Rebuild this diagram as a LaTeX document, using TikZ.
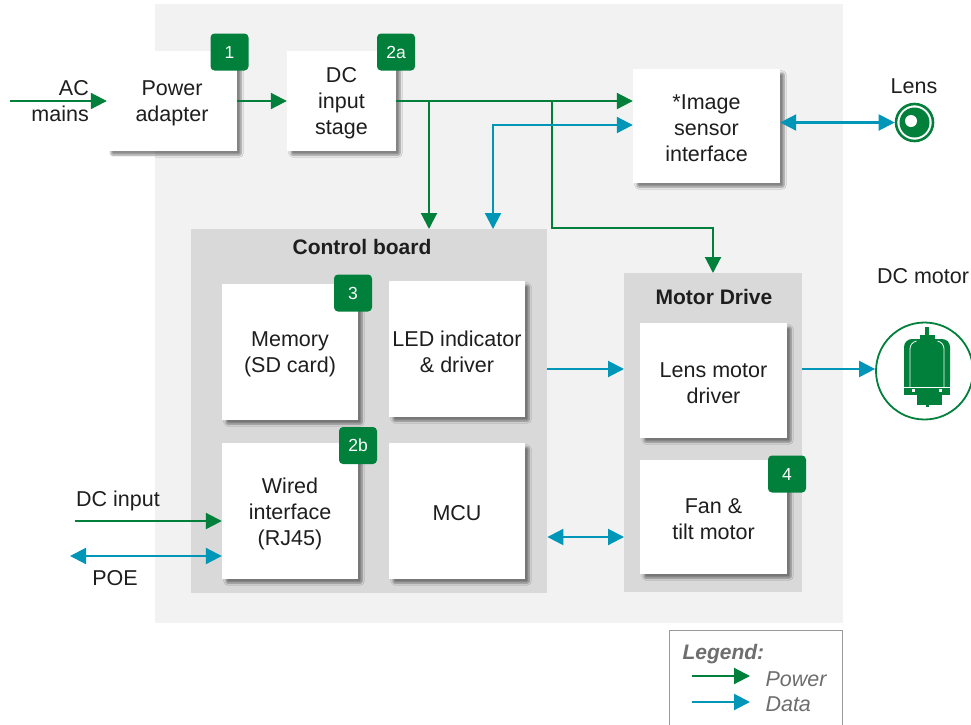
\documentclass[tikz,border=0pt]{standalone}
\usepackage{fontspec}
\setmainfont{Liberation Sans}
\usetikzlibrary{arrows.meta,shadows.blur,calc}
\definecolor{pgreen}{RGB}{0,128,58}
\definecolor{dblue}{RGB}{0,150,184}
\definecolor{bgA}{RGB}{242,242,242}
\definecolor{bgB}{RGB}{217,217,217}
\definecolor{txt}{RGB}{30,30,30}
\definecolor{leg}{RGB}{110,110,110}
\begin{document}
\begin{tikzpicture}[x=1pt,y=-1pt,
  every node/.style={text=txt,font=\fontsize{21.5}{26}\selectfont},
  box/.style={rectangle,fill=white,inner sep=0pt,
    blur shadow={shadow blur steps=6,shadow xshift=4pt,shadow yshift=-4pt,shadow blur extra rounding=1.5pt,shadow opacity=45},
    label={[align=center,yshift=-2.5pt,text=txt,font=\fontsize{21.5}{26}\selectfont]center:#1}},
  grp/.style={rectangle,fill=bgB,anchor=north west,inner sep=0pt},
  badge/.style={rectangle,rounded corners=4pt,fill=pgreen,text=white,
    minimum width=38pt,minimum height=37pt,inner sep=0pt,font=\fontsize{17.5}{20}\selectfont},
  tp/.tip={Triangle[length=16pt,width=16pt]},
  pw/.style={draw=pgreen,line width=2.1pt,-tp},
  dt/.style={draw=dblue,line width=2.1pt},
  dtip/.style={dt,-tp},
  dboth/.style={dt,tp-tp},
  gtitle/.style={font=\bfseries\fontsize{21}{24}\selectfont},
  legtext/.style={anchor=west,text=leg,font=\itshape\fontsize{21.5}{24}\selectfont}
]
\useasboundingbox (0,0) rectangle (971,724);
% main background
\fill[bgA] (155,4) rectangle (843,623);

% groups
\node[grp,minimum width=356pt,minimum height=364pt] (cb) at (191,229) {};
\node[gtitle] (cbt) at (362,247) {Control board};
\node[grp,minimum width=178pt,minimum height=319pt] (md) at (624,273) {};
\node[gtitle] (mdt) at (714,297) {Motor Drive};

% boxes
\node[box={Power\\adapter},minimum width=130pt,minimum height=100pt] (pa) at (172,101) {};
\node[box={DC\\input\\stage},minimum width=109pt,minimum height=100pt] (dc) at (341.5,101) {};
\node[box={*Image\\sensor\\interface},minimum width=147pt,minimum height=114pt] (img) at (706.5,126) {};
\node[box={Memory\\(SD card)},minimum width=136pt,minimum height=136pt] (mem) at (290,352) {};
\node[box={LED indicator\\\& driver},minimum width=136pt,minimum height=136pt] (led) at (457,349) {};
\node[box={Wired\\interface\\(RJ45)},minimum width=136pt,minimum height=136pt] (wi) at (290,511) {};
\node[box={MCU},minimum width=136pt,minimum height=136pt] (mcu) at (457,511) {};
\node[box={Lens motor\\driver},minimum width=147pt,minimum height=115pt] (lmd) at (713.5,380.5) {};
\node[box={Fan \&\\tilt motor},minimum width=147pt,minimum height=114pt] (fan) at (713.5,517) {};

% badges
\node[badge] (b1) at (229.5,52) {1};
\node[badge] (b2a) at (396,52) {2a};
\node[badge] (b3) at (353,293) {3};
\node[badge] (b2b) at (358,445.5) {2b};
\node[badge] (b4) at (787,474) {4};

% outside labels
\node[anchor=east,inner sep=0pt] (acl) at (89,88) {AC};
\node[anchor=east,inner sep=0pt] (mainsl) at (89,114) {mains};
\node (dcinl) at (118,501) {DC input};
\node (poel) at (115,578) {POE};
\node (lensl) at (914,86) {Lens};
\node (dcml) at (923,276) {DC motor};

% lens icon
\node[circle,draw=pgreen,line width=2.6pt,minimum size=37pt,inner sep=0pt] (lens) at (914.5,122.5) {};
\fill[pgreen] (lens.center) circle (15);
\fill[white] ($(lens.center)+(-3.5,-1.5)$) circle (6);

% DC motor icon
\node[circle,draw=pgreen,line width=1.8pt,minimum size=97pt,inner sep=0pt] (dcm) at (924.5,371) {};
\begin{scope}[shift={(dcm.center)}]
  \fill[pgreen] (0.5,-44) rectangle (4.5,-35);
  \fill[pgreen] (-4.5,-36) rectangle (10.5,-31);
  \fill[pgreen,rounded corners=8pt] (-20.5,-32) rectangle (25.5,18);
  \fill[pgreen] (-20.5,8) rectangle (25.5,24);
  \fill[pgreen] (-7.5,23) rectangle (17.5,34);
  \fill[pgreen] (1,33) rectangle (4,36);
  \draw[white,line width=0.8pt] (-14.5,16) -- (-14.5,-22) .. controls (-14.5,-26) and (-12,-29) .. (-8,-30);
  \draw[white,line width=0.8pt] (19.5,16) -- (19.5,-22) .. controls (19.5,-26) and (17,-29) .. (13,-30);
  \draw[white,line width=1pt] (-20.5,16.5) -- (25.5,16.5);
  \fill[white] (-12.5,18) rectangle (-9.5,21);
  \fill[white] (14,18) rectangle (17.5,21);
\end{scope}

% junction coordinates
\coordinate (ac0) at (10,101);
\coordinate (j1) at (429,101);
\coordinate (j2) at (552,101);
\coordinate (j2b) at (552,228);
\coordinate (j2c) at (713,228);
\coordinate (j3) at (493,125);
\coordinate (dcin0) at (75,521);
\coordinate (poe0) at (70,556);

% power connectors
\draw[pw] (ac0) -- (pa.west |- ac0);
\draw[pw] (pa.east) -- (dc.west);
\draw[pw] (dc.east) -- (img.west |- dc.east);
\draw[pw] (j1) -- (j1 |- cb.north);
\draw[pw] (j2) -- (j2b) -- (j2c) -- (j2c |- md.north);
\draw[pw] (dcin0) -- (wi.west |- dcin0);

% data connectors
\draw[dboth] (j3 |- cb.north) -- (j3) -- (img.west |- j3);
\draw[dboth] (img.east |- lens.west) -- (lens.west);
\draw[dtip] (cb.east |- 0,369) -- (md.west |- 0,369);
\draw[dboth] (cb.east |- 0,537) -- (md.west |- 0,537);
\draw[dtip] (md.east |- 0,369) -- (dcm.west |- 0,369);
\draw[dboth] (poe0) -- (wi.west |- poe0);

% legend
\node[draw=black!40,line width=1pt,fill=white,anchor=north west,minimum width=173pt,minimum height=100pt,inner sep=0pt] (legbox) at (669,630) {};
\node[anchor=west,text=leg,font=\bfseries\itshape\fontsize{21}{24}\selectfont] (legt) at (679,654) {Legend:};
\coordinate (lp0) at (692,676);
\coordinate (lp1) at (750,676);
\coordinate (ld0) at (692,702);
\coordinate (ld1) at (750,702);
\draw[pw] (lp0) -- (lp1);
\draw[dtip] (ld0) -- (ld1);
\node[legtext] (legp) at (762,679) {Power};
\node[legtext] (legd) at (762,704) {Data};
\end{tikzpicture}
\end{document}
